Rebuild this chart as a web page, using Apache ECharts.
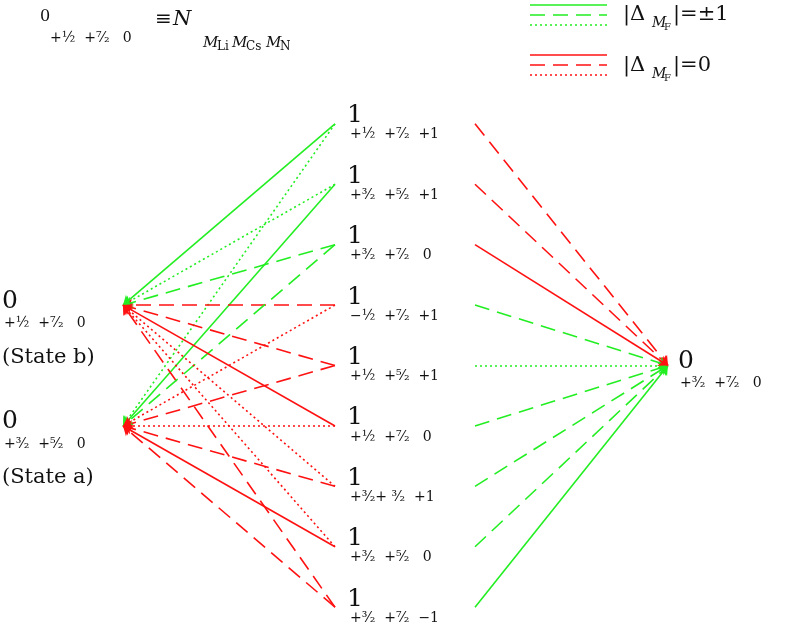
<!DOCTYPE html>
<html><head><meta charset="utf-8">
<script src="https://cdn.jsdelivr.net/npm/echarts@6/dist/echarts.min.js"></script>
<style>html,body{margin:0;padding:0;background:#fff}#c{width:789px;height:638px}</style>
</head><body><div id="c"></div>
<script>
// Columns (x units) and level ranks (y units)
const colLeft = 123, colMidL = 335, colMidR = 475, colRight = 668;
const upperLabels = ['+½  +⁷⁄₂  +1','+³⁄₂  +⁵⁄₂  +1','+³⁄₂  +⁷⁄₂   0','−½  +⁷⁄₂  +1','+½  +⁵⁄₂  +1','+½  +⁷⁄₂   0','+³⁄₂+ ³⁄₂  +1','+³⁄₂  +⁵⁄₂   0','+³⁄₂  +⁷⁄₂  −1'];
const upperRanks = [0,1,2,3,4,5,6,7,8];
const stateB = {rank:3, label:'+½  +⁷⁄₂   0', name:'(State b)'};
const stateA = {rank:5, label:'+³⁄₂  +⁵⁄₂   0', name:'(State a)'};
const finalState = {rank:4, label:'+³⁄₂  +⁷⁄₂   0'};
// styles per transition: g/r + s(solid)/d(dashed)/o(dotted)
const toB = ['gs','go','gd','rd','rd','rs','ro','ro','rd'];
const toA = ['go','gs','gd','ro','rd','ro','rd','rs','rd'];
const toFinal = ['rd','rd','rs','gd','go','gd','gd','gd','gs'];

const colors = {g:'#22ee22', r:'#ff1111'};
const types = {s:'solid', d:[15,8], o:[2,3]};
const groups = {};
function add(code, from, to){ (groups[code] = groups[code] || []).push({coords:[from,to]}); }
upperRanks.forEach((r,i)=>{
  add(toB[i], [colMidL, r], [colLeft, stateB.rank]);
  add(toA[i], [colMidL, r], [colLeft, stateA.rank]);
  add(toFinal[i], [colMidR, r], [colRight, finalState.rank]);
});
const series = Object.keys(groups).map(k=>({
  type:'lines', coordinateSystem:'cartesian2d', data:groups[k],
  symbol:['none','arrow'], symbolSize:[0,9],
  lineStyle:{color:colors[k[0]], width:1.6, type:types[k[1]], opacity:1}
}));
const chart = echarts.init(document.getElementById('c'));
chart.setOption({
  animation:false,
  grid:{left:0,right:0,top:0,bottom:0},
  xAxis:{type:'value',min:0,max:789,show:false},
  yAxis:{type:'value',min:-2.05,max:8.51,inverse:true,show:false},
  series
});
const F = '"DejaVu Serif","Liberation Serif",serif';
const g = [];
function txt(x,y,t,size,extra){ g.push({type:'text',x,y,style:Object.assign({text:t,font:(size)+'px '+F,fill:'#111',textVerticalAlign:'middle'},extra||{})}); }
const px = p=>chart.convertToPixel({gridIndex:0},p);
upperRanks.forEach((r,i)=>{
  const [x,y] = px([colMidL,r]);
  txt(x+12,y-8,'1',25); txt(x+15,y+11,upperLabels[i],14);
});
[stateB,stateA].forEach(s=>{
  const [x,y]=px([colLeft,s.rank]);
  txt(2,y-4,'0',25); txt(4,y+18,s.label,14); txt(2,y+52,s.name,21);
});
{ const [x,y]=px([colRight,finalState.rank]); txt(x+10,y-4,'0',25); txt(x+12,y+18,finalState.label,14); }
// title
txt(40,17,'0',16); txt(50,38,'+½  +⁷⁄₂   0',14); txt(155,20,'≡',20); txt(173,20,'N',21,{font:'italic 21px '+F});
txt(203,43,'M',15,{font:'italic 15px '+F}); txt(217,47,'Li',12); txt(232,43,'M',15,{font:'italic 15px '+F}); txt(246,47,'Cs',12); txt(266,43,'M',15,{font:'italic 15px '+F}); txt(280,47,'N',12);
// legend
function leg(y,color,dash){ g.push({type:'line',shape:{x1:530,y1:y,x2:607,y2:y},style:{stroke:color,lineWidth:1.6,lineDash:dash}}); }
leg(5,colors.g,null); leg(15,colors.g,[15,8]); leg(25,colors.g,[2,3]);
leg(55,colors.r,null); leg(65,colors.r,[15,8]); leg(75,colors.r,[2,3]);
function legText(y,val){ txt(623,y,'|Δ',21); txt(652,y+8,'M',14,{font:'italic 14px '+F}); txt(664,y+12,'F',10); txt(673,y,'|='+val,21); }
legText(15,'±1'); legText(66,'0');
chart.setOption({graphic:g});
</script></body></html>
